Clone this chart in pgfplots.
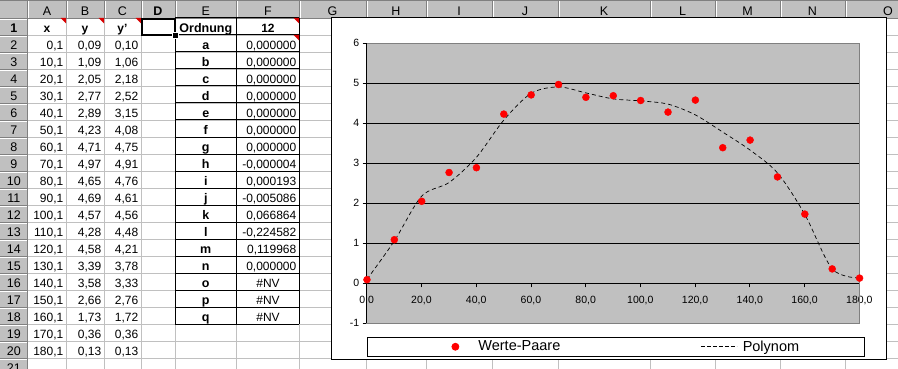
\documentclass[border=0pt]{standalone}
\usepackage{pgfplots}
\pgfplotsset{compat=1.18}
\usepackage{pgfplotstable}
\usepackage{fontspec}
\setmainfont{Liberation Sans}
\definecolor{xlgray}{HTML}{C0C0C0}
\definecolor{xdgray}{HTML}{808080}
\definecolor{xred}{HTML}{FF0000}
\pgfplotstableread{
x y yp
0.1 0.09 0.10
10.1 1.09 1.06
20.1 2.05 2.18
30.1 2.77 2.52
40.1 2.89 3.15
50.1 4.23 4.08
60.1 4.71 4.75
70.1 4.97 4.91
80.1 4.65 4.76
90.1 4.69 4.61
100.1 4.57 4.56
110.1 4.28 4.48
120.1 4.58 4.21
130.1 3.39 3.78
140.1 3.58 3.33
150.1 2.66 2.76
160.1 1.73 1.72
170.1 0.36 0.36
180.1 0.13 0.13
}\data
\begin{document}
\begin{tikzpicture}[x=1pt,y=1pt,font=\fontsize{12}{14}\selectfont]
\useasboundingbox (0,0) rectangle (898,-369);
\begin{scope}
\clip (0,0) rectangle (898,-369);
\fill[white] (0,0) rectangle (898,-369);
% cell grid
\foreach \k in {1,...,21} \draw[xlgray,line width=0.8pt] (27.7,{-18-17*\k}) -- (898,{-18-17*\k});
\foreach \x in {66,104,141,175,236.7,299,366,426,492,558,650,715,780,845}
  \draw[xlgray,line width=0.8pt] (\x,-18) -- (\x,-369);
% headers
\fill[xlgray] (0,0) rectangle (898,-18);
\fill[xlgray] (0,-18) rectangle (27.7,-369);
\draw[xdgray,line width=1pt] (0,-0.5) -- (898,-0.5);
\foreach \x in {27.7,66,104,141,175,236.7,299,366,426,492,558,650,715,780,845} {
  \draw[xdgray,line width=0.8pt] (\x,0) -- (\x,-18);
  \draw[white,line width=0.8pt] ({\x+1},-1) -- ({\x+1},-18);
}
\foreach \k in {0,...,21} {
  \draw[xdgray,line width=0.8pt] (0,{-18-17*\k}) -- (27.7,{-18-17*\k});
  \draw[white,line width=0.8pt] (0,{-19-17*\k}) -- (27,{-19-17*\k});
}
\draw[xdgray,line width=0.8pt] (27.7,-18) -- (27.7,-369);
\draw[xdgray,line width=0.8pt] (0,-18) -- (898,-18);
% column letters
\foreach \c/\l in {47/A,85/B,122.5/C,205.8/E,268/F,332.5/G,396/H,459/I,525/J,604/K,682.5/L,747.5/M,812.5/N,888/O}
  \node[anchor=base,inner sep=0pt,font=\fontsize{12.5}{14}\selectfont] at (\c,-15.5) {\l};
\node[anchor=base,inner sep=0pt,font=\fontsize{12.5}{14}\selectfont] at (158,-15.5) {\bfseries D};
% row numbers
\node[anchor=base,inner sep=0pt,font=\fontsize{12.5}{14}\selectfont] at (13.85,{-35+2.5}) {\bfseries 1};
\foreach \k in {2,...,21}
  \node[anchor=base,inner sep=0pt,font=\fontsize{12.5}{14}\selectfont] at (13.85,{-18-17*\k+2.5}) {\k};
% row 1 headings
\node[anchor=base,inner sep=0pt] at (47,-32.5) {\bfseries x};
\node[anchor=base,inner sep=0pt] at (85,-32.5) {\bfseries y};
\node[anchor=base,inner sep=0pt] at (122.5,-32.5) {\bfseries y'};
% data cells
\foreach \k/\a/\b/\c in {2/{0,1}/{0,09}/{0,10},3/{10,1}/{1,09}/{1,06},4/{20,1}/{2,05}/{2,18},
  5/{30,1}/{2,77}/{2,52},6/{40,1}/{2,89}/{3,15},7/{50,1}/{4,23}/{4,08},8/{60,1}/{4,71}/{4,75},
  9/{70,1}/{4,97}/{4,91},10/{80,1}/{4,65}/{4,76},11/{90,1}/{4,69}/{4,61},12/{100,1}/{4,57}/{4,56},
  13/{110,1}/{4,28}/{4,48},14/{120,1}/{4,58}/{4,21},15/{130,1}/{3,39}/{3,78},16/{140,1}/{3,58}/{3,33},
  17/{150,1}/{2,66}/{2,76},18/{160,1}/{1,73}/{1,72},19/{170,1}/{0,36}/{0,36},20/{180,1}/{0,13}/{0,13}} {
  \node[anchor=base east,inner sep=0pt] at (63.5,{-18-17*\k+2.5}) {\a};
  \node[anchor=base east,inner sep=0pt] at (101.5,{-18-17*\k+2.5}) {\b};
  \node[anchor=base east,inner sep=0pt] at (138.5,{-18-17*\k+2.5}) {\c};
}
% E/F table
\node[anchor=base,inner sep=0pt,font=\fontsize{12.5}{14}\selectfont] at (205.8,-32.5) {\bfseries Ordnung};
\node[anchor=base,inner sep=0pt] at (268,-32.5) {\bfseries 12};
\foreach \k/\l/\v in {2/a/{0,000000},3/b/{0,000000},4/c/{0,000000},5/d/{0,000000},6/e/{0,000000},
  7/f/{0,000000},8/g/{0,000000},9/h/{-0,000004},10/i/{0,000193},11/j/{-0,005086},12/k/{0,066864},
  13/l/{-0,224582},14/m/{0,119968},15/n/{0,000000}} {
  \node[anchor=base,inner sep=0pt,font=\fontsize{12.5}{14}\selectfont] at (205.8,{-18-17*\k+2.5}) {\bfseries \l};
  \node[anchor=base east,inner sep=0pt] at (296.5,{-18-17*\k+2.5}) {\v};
}
\foreach \k/\l in {16/o,17/p,18/q} {
  \node[anchor=base,inner sep=0pt,font=\fontsize{12.5}{14}\selectfont] at (205.8,{-18-17*\k+2.5}) {\bfseries \l};
  \node[anchor=base,inner sep=0pt] at (268,{-18-17*\k+2.5}) {\#NV};
}
\foreach \x in {175,236.7,299} \draw[black,line width=1pt] (\x,-18) -- (\x,-324);
\foreach \k in {0,...,18} \draw[black,line width=1pt] (175,{-18-17*\k}) -- (299,{-18-17*\k});
% comment triangles
\foreach \r/\t in {66/18,104/18,141/18,299/18,299/35}
  \fill[xred!85!black] (\r,-\t) -- ({\r-5.5},-\t) -- (\r,{-\t-5.5}) -- cycle;
% active cell
\draw[black,line width=2pt] (141.5,-19) rectangle (175,-35);
\fill[black] (173,-33) rectangle (178,-38);
\draw[white,line width=0.6pt] (172.7,-32.7) rectangle (178.3,-38.3);
% chart area
\fill[white] (331.7,-18) rectangle (886.7,-359);
\draw[black,line width=1pt] (331.7,-18) rectangle (886.7,-359);
\end{scope}
\begin{axis}[
  at={(366.7pt,-323.3pt)}, anchor=south west,
  scale only axis, width=492.6pt, height=280pt,
  xmin=0, xmax=180, ymin=-1, ymax=6,
  axis x line=middle, axis y line=left,
  axis line style={-, black, line width=0.8pt},
  hide obscured x ticks=false, hide obscured y ticks=false,
  xtick={0,20,...,180},
  xticklabels={{0,0},{20,0},{40,0},{60,0},{80,0},{100,0},{120,0},{140,0},{160,0},{180,0}},
  ytick={-1,0,...,6}, yticklabels={-1,0,1,2,3,4,5,6},
  tick align=outside, major tick length=4pt,
  tick style={black, line width=0.8pt},
  ymajorgrids, grid style={black, line width=0.8pt},
  axis background/.style={fill=xlgray},
  tick label style={font=\fontsize{10.5}{12}\selectfont},
  x tick label style={yshift=-5pt},
  clip=false,
  legend columns=2,
  legend style={at={(0,-0.04786)}, anchor=north west, draw=black, line width=0.8pt, fill=white,
    inner sep=0pt, font=\fontsize{14.5}{16}\selectfont,
    /tikz/every even column/.append style={column sep=0pt},
    nodes={inner sep=0pt}},
  legend cell align=left,
]
\addplot[only marks, mark=*, mark size=3.5pt, color=xred,
  legend image code/.code={\path[draw=none,fill=none] (0pt,-9.65pt) rectangle (111.3pt,9.65pt); \fill[xred] (88.3pt,0pt) circle (3.5pt);}]
  table[x=x,y=y]{\data};
\addlegendentry{\makebox[222pt][l]{Werte-Paare}}
\addplot[black, smooth, line width=0.7pt, dash pattern=on 4pt off 3pt,
  legend image code/.code={\path[draw=none,fill=none] (0pt,-9.65pt) rectangle (42pt,9.65pt); \draw[black,line width=0.7pt,dash pattern=on 4pt off 2pt] (0pt,0pt) -- (36pt,0pt);}]
  table[x=x,y=yp]{\data};
\addlegendentry{\makebox[122pt][l]{Polynom}}
\draw[xdgray,line width=0.8pt] (rel axis cs:0,0) rectangle (rel axis cs:1,1);
\draw[black,line width=0.8pt] (rel axis cs:0,0) -- (rel axis cs:0,1);
\end{axis}
\end{tikzpicture}
\end{document}
